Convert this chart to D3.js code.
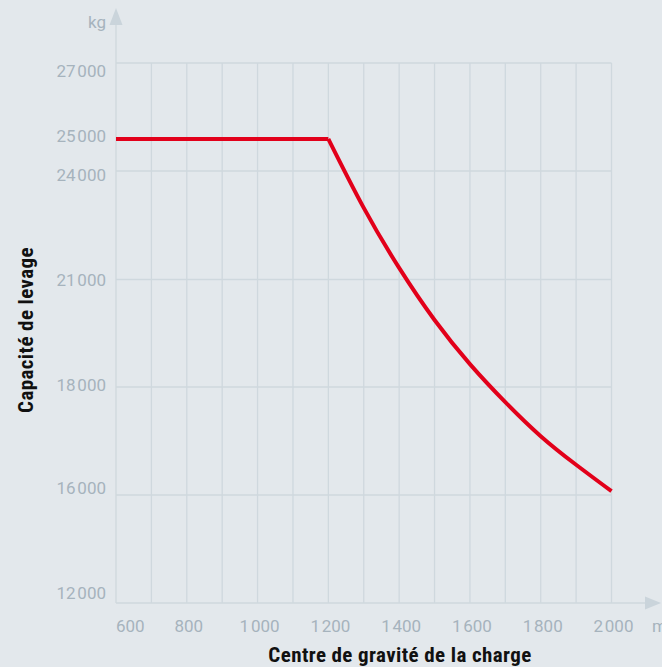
<!DOCTYPE html>
<html>
<head>
<meta charset="utf-8">
<script src="https://cdn.jsdelivr.net/npm/d3@7"></script>
<style>
  html, body { margin: 0; padding: 0; background: #e3e8ec; }
  .tick-label { font-family: Roboto, "Liberation Sans", sans-serif; font-size: 17px; fill: #a6b3bd; }
  .axis-title { font-family: "Liberation Sans Narrow", "Roboto Condensed", Roboto, sans-serif; font-weight: bold; font-size: 21px; letter-spacing: 0.4px; fill: #111; }
</style>
</head>
<body>
<div class="chart"></div>
<script>
// load position (mm) and lifting capacity (kg)
var positions  = [600, 1200, 1300, 1400, 1500, 1600, 1700, 1800, 1900, 2000];
var capacities = [25000, 25000, 22980, 21320, 19870, 18640, 17720, 17090, 16560, 16070];

var xTicks   = [600, 800, 1000, 1200, 1400, 1600, 1800, 2000];
var xGrid    = [700, 800, 900, 1000, 1100, 1200, 1300, 1400, 1500, 1600, 1700, 1800, 1900, 2000];
var yTicks   = [27000, 25000, 24000, 21000, 18000, 16000, 12000];
var yGrid    = [27000, 24000, 21000, 18000, 16000];
var yBreaks  = [12000, 16000, 18000, 21000, 24000, 25000, 27000];

var width = 662, height = 667;

var svg = d3.select(".chart").append("svg")
    .attr("width", width)
    .attr("height", height)
    .style("display", "block");

svg.append("rect").attr("width", width).attr("height", height).attr("fill", "#e3e8ec");

var x = d3.scaleLinear().domain([600, 2000]).range([116, 611.5]);
// the value axis is not linear: each step between ticks gets the same room
var y = d3.scaleLinear().domain(yBreaks).range([603, 495, 387, 279.5, 171, 139, 63]);
var yLab = d3.scaleLinear().domain(yBreaks).range([593, 488, 385, 280, 175, 136, 71]);

var fmt = d3.formatLocale({decimal: ",", thousands: "\u200a", grouping: [3], currency: ["", " €"]}).format(",");

var gridColor = "#cfd8de";

// grid
svg.append("g").selectAll("line")
    .data(yGrid)
  .enter().append("line")
    .attr("x1", x(600)).attr("x2", x(2000))
    .attr("y1", function(d) { return y(d); })
    .attr("y2", function(d) { return y(d); })
    .attr("stroke", gridColor).attr("stroke-width", 1.3);

svg.append("g").selectAll("line")
    .data(xGrid)
  .enter().append("line")
    .attr("x1", function(d) { return x(d); })
    .attr("x2", function(d) { return x(d); })
    .attr("y1", y(27000)).attr("y2", y(12000))
    .attr("stroke", gridColor).attr("stroke-width", 1.3);

// axes with arrows
svg.append("line")
    .attr("x1", x(600)).attr("x2", x(600))
    .attr("y1", y(12000)).attr("y2", 20)
    .attr("stroke", gridColor).attr("stroke-width", 1.3);
svg.append("path")
    .attr("d", "M" + (x(600) - 6.5) + ",25L" + x(600) + ",8L" + (x(600) + 6.5) + ",25Z")
    .attr("fill", "#cad4db");

svg.append("line")
    .attr("x1", x(600)).attr("x2", 650)
    .attr("y1", y(12000)).attr("y2", y(12000))
    .attr("stroke", gridColor).attr("stroke-width", 1.3);
svg.append("path")
    .attr("d", "M645," + (y(12000) - 6.5) + "L661," + y(12000) + "L645," + (y(12000) + 6.5) + "Z")
    .attr("fill", "#cad4db");

// tick labels
svg.append("g").selectAll("text")
    .data(yTicks)
  .enter().append("text")
    .attr("class", "tick-label")
    .attr("x", 106)
    .attr("y", function(d) { return yLab(d); })
    .attr("dy", "0.36em")
    .attr("text-anchor", "end")
    .text(function(d) { return fmt(d); });

svg.append("g").selectAll("text")
    .data(xTicks)
  .enter().append("text")
    .attr("class", "tick-label")
    .attr("x", function(d) { return d === 600 ? x(d) : x(d) + 2; })
    .attr("y", 632)
    .attr("text-anchor", function(d) { return d === 600 ? "start" : "middle"; })
    .text(function(d) { return fmt(d); });

svg.append("text").attr("class", "tick-label")
    .attr("x", 106).attr("y", 28).attr("text-anchor", "end").text("kg");
// unit is clipped by the right edge, as in the original
svg.append("text").attr("class", "tick-label")
    .attr("x", 652).attr("y", 632).text("mm");

// titles
svg.append("text")
    .attr("class", "axis-title")
    .attr("x", 400).attr("y", 662)
    .attr("text-anchor", "middle")
    .text("Centre de gravité de la charge");

svg.append("text")
    .attr("class", "axis-title")
    .attr("transform", "translate(32.5,330) rotate(-90)")
    .attr("text-anchor", "middle")
    .text("Capacité de levage");

// capacity curve
var data = positions.map(function(p, i) { return {pos: p, kg: capacities[i]}; });
var flat = data.slice(0, 2), drop = data.slice(1);

var line = d3.line()
    .x(function(d) { return x(d.pos); })
    .y(function(d) { return y(d.kg); });

svg.append("path")
    .datum(flat)
    .attr("fill", "none").attr("stroke", "#e2001a").attr("stroke-width", 4)
    .attr("d", line);

svg.append("path")
    .datum(drop)
    .attr("fill", "none").attr("stroke", "#e2001a").attr("stroke-width", 4)
    .attr("stroke-linejoin", "round")
    .attr("d", line.curve(d3.curveNatural));
</script>
</body>
</html>
